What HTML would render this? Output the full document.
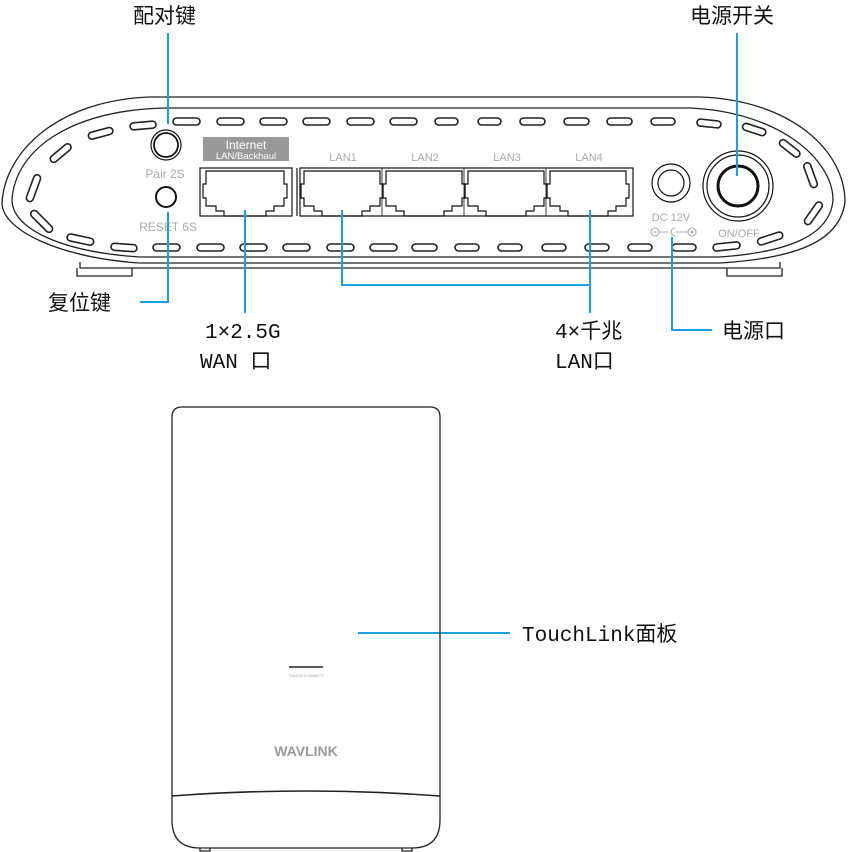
<!DOCTYPE html>
<html><head><meta charset="utf-8"><style>
html,body{margin:0;padding:0;background:#fff;width:851px;height:852px;overflow:hidden}
svg{display:block}
.lbl{font-family:"Liberation Mono","Noto Sans CJK SC",monospace;font-size:21px;fill:#111}
.g{font-family:"Liberation Sans",sans-serif;fill:#aaa;font-size:11px}
</style></head><body>
<svg width="851" height="852" viewBox="0 0 851 852" xmlns="http://www.w3.org/2000/svg">
<g fill="none" stroke="#222" stroke-width="1.3">
<path d="M150,97 L700,97 C790,100 845,150 845,202 C840,240 800,258 720,263 L140,263 C60,258 2,230 2,203 C5,150 60,100 150,97 Z"/>
<path d="M80,262 L80,268 L780,268 L780,262"/>
<path d="M165,108 L690,108 C780,112 833,160 833,200 C830,235 790,252 720,257 L140,257 C60,252 12,228 12,200 C15,150 70,110 165,108 Z"/>
<path d="M77,268 v8 h55 v-8 M727,268 v8 h55 v-8"/>
</g>
<g fill="none" stroke="#222" stroke-width="1.6">
<rect x="173" y="118" width="27" height="7" rx="3.5"/><rect x="217" y="118" width="27" height="7" rx="3.5"/><rect x="260" y="118" width="27" height="7" rx="3.5"/><rect x="303" y="118" width="27" height="7" rx="3.5"/><rect x="347" y="118" width="27" height="7" rx="3.5"/><rect x="390" y="118" width="27" height="7" rx="3.5"/><rect x="435" y="118" width="23" height="7" rx="3.5"/><rect x="478" y="118" width="23" height="7" rx="3.5"/><rect x="520" y="118" width="25" height="7" rx="3.5"/><rect x="564" y="118" width="25" height="7" rx="3.5"/><rect x="607" y="118" width="25" height="7" rx="3.5"/><rect x="651" y="118" width="24" height="7" rx="3.5"/>
<rect x="697" y="120" width="24" height="7" rx="3.5" transform="rotate(6 709 123)"/>
<rect x="742" y="126" width="24" height="7" rx="3.5" transform="rotate(18 754 130)"/>
<rect x="778" y="145" width="24" height="7" rx="3.5" transform="rotate(38 790 148)"/>
<rect x="798" y="172" width="26" height="7" rx="3.5" transform="rotate(70 811 175)"/>
<rect x="800" y="210" width="26" height="7" rx="3.5" transform="rotate(-55 813 213)"/>
<rect x="757" y="235" width="26" height="7" rx="3.5" transform="rotate(-18 770 238)"/>
<rect x="713" y="243" width="27" height="7" rx="3.5" transform="rotate(-6 726 246)"/>
<rect x="130" y="122" width="26" height="7" rx="3.5" transform="rotate(-5 143 125)"/>
<rect x="88" y="130" width="25" height="7" rx="3.5" transform="rotate(-15 100 133)"/>
<rect x="48" y="150" width="25" height="7" rx="3.5" transform="rotate(-40 60 153)"/>
<rect x="19" y="185" width="28" height="7" rx="3.5" transform="rotate(-70 33 188)"/>
<rect x="28" y="218" width="28" height="7" rx="3.5" transform="rotate(45 42 221)"/>
<rect x="67" y="236" width="27" height="7" rx="3.5" transform="rotate(12 80 239)"/>
<rect x="111" y="244" width="26" height="7" rx="3.5" transform="rotate(4 124 247)"/>
<rect x="153" y="244" width="27" height="7" rx="3.5"/><rect x="197" y="244" width="27" height="7" rx="3.5"/><rect x="240" y="244" width="27" height="7" rx="3.5"/><rect x="283" y="244" width="27" height="7" rx="3.5"/><rect x="327" y="244" width="27" height="7" rx="3.5"/><rect x="370" y="244" width="27" height="7" rx="3.5"/><rect x="412" y="244" width="25" height="7" rx="3.5"/><rect x="455" y="244" width="24" height="7" rx="3.5"/><rect x="498" y="244" width="24" height="7" rx="3.5"/><rect x="542" y="244" width="24" height="7" rx="3.5"/><rect x="585" y="244" width="24" height="7" rx="3.5"/><rect x="628" y="244" width="24" height="7" rx="3.5"/><rect x="672" y="244" width="24" height="7" rx="3.5"/>
</g>
<g fill="none" stroke="#111">
<circle cx="166" cy="145" r="15" stroke-width="1.2"/><circle cx="166" cy="145" r="12" stroke-width="1.8"/>
<circle cx="166" cy="197" r="10" stroke-width="2"/>
<circle cx="671" cy="183" r="19" stroke-width="1.2"/><circle cx="671" cy="183" r="13" stroke-width="1.2"/>
<circle cx="738" cy="186" r="35" stroke-width="1.2"/><circle cx="738" cy="186" r="31" stroke-width="1.2"/><circle cx="738" cy="186" r="20" stroke-width="3"/>
</g>
<g class="g" text-anchor="middle">
<text x="165" y="178" font-size="12">Pair 2S</text>
<text x="168" y="231" font-size="12">RESET 6S</text>
<text x="343" y="161">LAN1</text><text x="425" y="161">LAN2</text><text x="507" y="161">LAN3</text><text x="589" y="161">LAN4</text>
<text x="671" y="221">DC 12V</text>
<text x="739" y="237">ON/OFF</text>
</g>
<g fill="none" stroke="#aaa" stroke-width="1.1"><circle cx="655" cy="232" r="4"/><circle cx="692" cy="232" r="4"/><path d="M659,232 h9 M676,232 h12 M690,232 h4 M692,230 v4 M653,232 h4"/><path d="M675,228 a4,4 0 1 0 0,8"/></g>
<rect x="203" y="137" width="86" height="24" fill="#999"/>
<text x="246" y="149" text-anchor="middle" font-family="Liberation Sans,sans-serif" font-size="12" fill="#fff">Internet</text>
<text x="246" y="159" text-anchor="middle" font-family="Liberation Sans,sans-serif" font-size="9.5" fill="#fff">LAN/Backhaul</text>
<g fill="none" stroke="#111" stroke-width="1.2">
<rect x="200" y="168" width="92" height="48"/>
<line x1="297" y1="168" x2="297" y2="216"/>
<rect x="300" y="168" width="333" height="48"/>
<g id="p"><path d="M206,171 h78 v13 h3 v14 h-3 v8 h-10 v5 h-8 v5 h-42 v-5 h-8 v-5 h-10 v-8 h-3 v-14 h3 z"/></g>
<path d="M304,171 h76 v13 h3 v14 h-3 v8 h-10 v5 h-8 v5 h-40 v-5 h-8 v-5 h-10 v-8 h-3 v-14 h3 z"/>
<path d="M386,171 h76 v13 h3 v14 h-3 v8 h-10 v5 h-8 v5 h-40 v-5 h-8 v-5 h-10 v-8 h-3 v-14 h3 z"/>
<path d="M468,171 h76 v13 h3 v14 h-3 v8 h-10 v5 h-8 v5 h-40 v-5 h-8 v-5 h-10 v-8 h-3 v-14 h3 z"/>
<path d="M550,171 h76 v13 h3 v14 h-3 v8 h-10 v5 h-8 v5 h-40 v-5 h-8 v-5 h-10 v-8 h-3 v-14 h3 z"/>
<path d="M382,168 v48 M464,168 v48 M546,168 v48" stroke-width="0.8"/>
</g>
<g fill="none" stroke="#19a0df" stroke-width="2">
<path d="M168,33 V124"/>
<path d="M168,212 V302 H140"/>
<path d="M245,210 V313"/>
<path d="M342,210 V285 H590 M590,210 V313"/>
<path d="M672,237 V330 H712"/>
<path d="M737,33 V176"/>
<path d="M358,633 H510"/>
</g>
<g class="lbl">
<text x="133" y="23">配对键</text>
<text x="690" y="23">电源开关</text>
<text x="48" y="310">复位键</text>
<text x="205" y="338">1×2.5G</text>
<text x="200" y="368">WAN 口</text>
<text x="555" y="338">4×千兆</text>
<text x="555" y="368">LAN口</text>
<text x="722" y="338">电源口</text>
<text x="522" y="641">TouchLink面板</text>
</g>
<g fill="none" stroke="#222" stroke-width="1.3">
<path d="M182,407 H430 Q440,407 440,417 V820 Q440,848 412,848 H200 Q172,848 172,820 V417 Q172,407 182,407 Z"/>
<path d="M172,796 Q306,786 440,796" stroke-width="1.6"/>
<path d="M200,848 v3 h10 v-3 M402,848 v3 h10 v-3"/>
</g>
<line x1="289" y1="667" x2="323" y2="667" stroke="#222" stroke-width="1.5"/>
<text x="306" y="677" text-anchor="middle" font-family="Liberation Sans,sans-serif" font-size="4" fill="#999">TOUCH CONNECT</text>
<text x="306" y="756" text-anchor="middle" font-family="Liberation Sans,sans-serif" font-size="14" font-weight="bold" fill="#999">WAVLINK</text>
</svg>
</body></html>
